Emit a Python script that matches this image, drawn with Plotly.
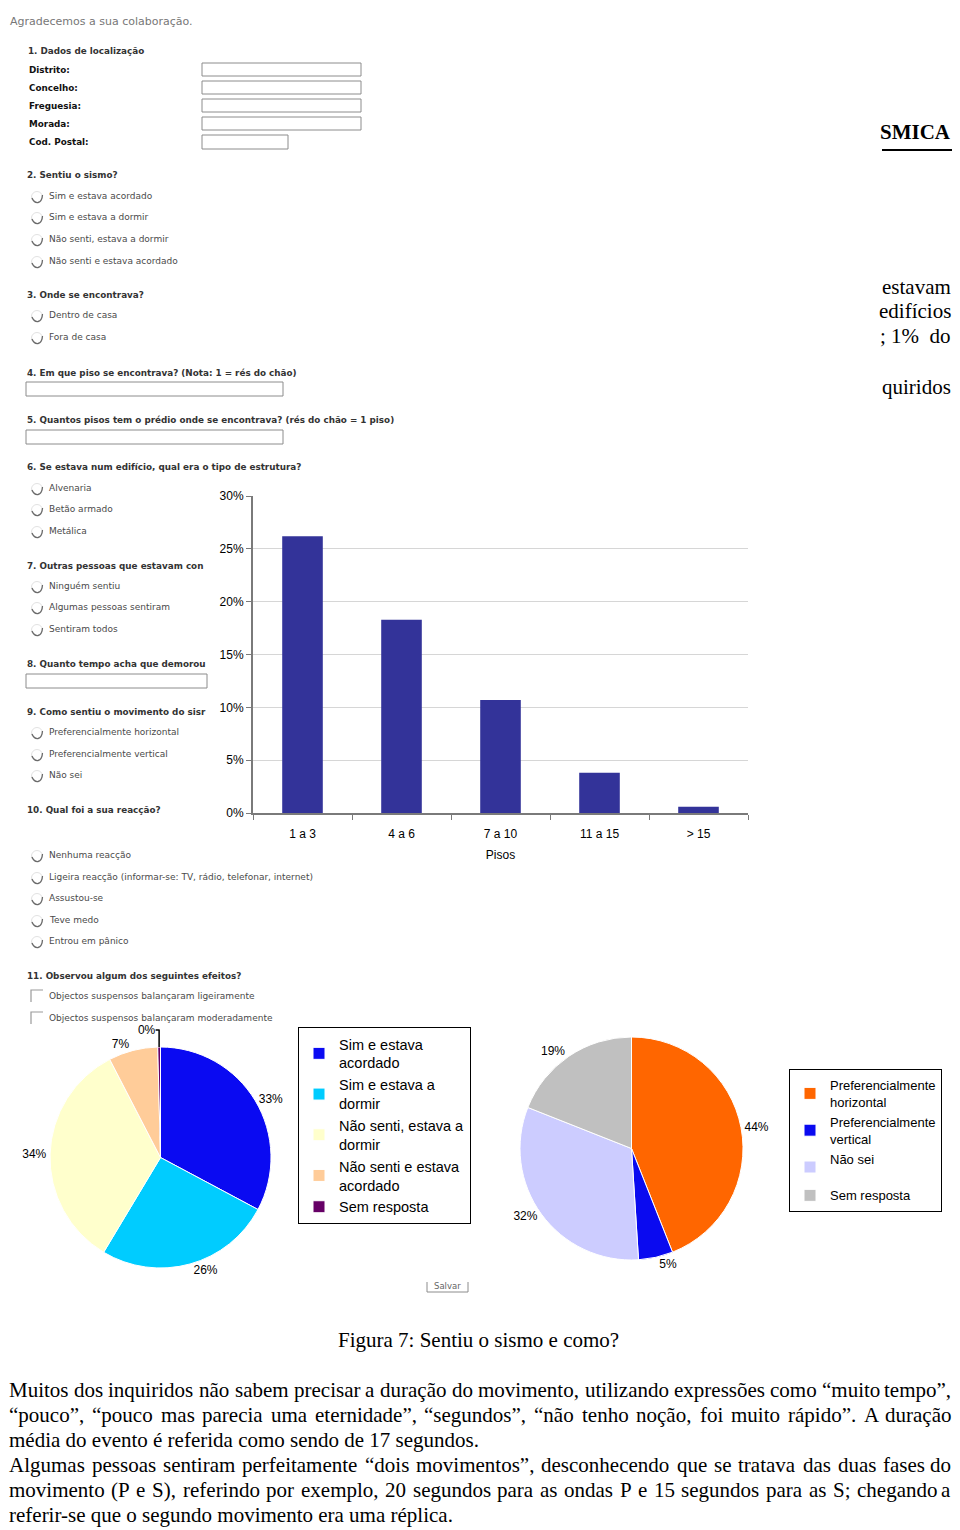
import unicodedata
import plotly.graph_objects as go

# The page puts the figure 8px in from the top-left corner (body margin),
# so the figure is sized to fill the rest of the 960x1530 window and the
# helpers below turn page-pixel positions into paper fractions.
OX, OY = 8, 8
FW, FH = 960 - OX, 1530 - OY


def px(x):
    return (x - OX) / FW


def py(y):
    return 1 - (y - OY) / FH


# --- chart data -----------------------------------------------------------
floor_ranges = ["1 a 3", "4 a 6", "7 a 10", "11 a 15", "> 15"]
floor_share = [0.262, 0.183, 0.107, 0.038, 0.006]

felt_labels = ["Sim e estava<br>acordado", "Sim e estava a<br>dormir",
               "Não senti, estava a<br>dormir", "Não senti e estava<br>acordado",
               "Sem resposta"]
felt_share = [32.8, 25.8, 33.8, 7.2, 0.4]
felt_colors = ["#0A0AF2", "#00CCFF", "#FFFFCC", "#FFCC99", "#660066"]

# pie legends merge equal labels across traces, so this "Sem resposta"
# carries a trailing no-break space to keep its own legend entry
motion_labels = ["Preferencialmente<br>horizontal", "Preferencialmente<br>vertical",
                 "Não sei<br>\u00a0", "Sem resposta\u00a0"]
motion_share = [44, 5, 32, 19]
motion_colors = ["#FF6600", "#0A0AF0", "#CCCCFF", "#C0C0C0"]

# --- questionnaire screenshot behind the charts ---------------------------
form_heads = [
    (27, 51, "1. Dados de localização"),
    (26, 175, "2. Sentiu o sismo?"),
    (26, 295, "3. Onde se encontrava?"),
    (26, 373, "4. Em que piso se encontrava? (Nota: 1 = rés do chão)"),
    (26, 420, "5. Quantos pisos tem o prédio onde se encontrava? (rés do chão = 1 piso)"),
    (26, 467, "6. Se estava num edifício, qual era o tipo de estrutura?"),
    (26, 566, "7. Outras pessoas que estavam con"),
    (26, 664, "8. Quanto tempo acha que demorou"),
    (26, 712, "9. Como sentiu o movimento do sisr"),
    (26, 810, "10. Qual foi a sua reacção?"),
    (26, 976, "11. Observou algum dos seguintes efeitos?"),
]
field_labels = [(28, 70, "Distrito:"), (28, 88, "Concelho:"), (28, 106, "Freguesia:"),
                (28, 124, "Morada:"), (28, 142, "Cod. Postal:")]
field_boxes = [(202, 63, 361, 76), (202, 81, 361, 94), (202, 99, 361, 112),
               (202, 117, 361, 130), (202, 135, 288, 149),
               (26, 382, 283, 396), (26, 430, 283, 444), (26, 674, 207, 688)]
radio_items = [
    (196, "Sim e estava acordado"), (217, "Sim e estava a dormir"),
    (239, "Não senti, estava a dormir"), (261, "Não senti e estava acordado"),
    (315, "Dentro de casa"), (337, "Fora de casa"),
    (488, "Alvenaria"), (509, "Betão armado"), (531, "Metálica"),
    (586, "Ninguém sentiu"), (607, "Algumas pessoas sentiram"), (629, "Sentiram todos"),
    (732, "Preferencialmente horizontal"), (754, "Preferencialmente vertical"),
    (775, "Não sei"),
    (855, "Nenhuma reacção"),
    (877, "Ligeira reacção (informar-se: TV, rádio, telefonar, internet)"),
    (898, "Assustou-se"), (920, "Teve medo"), (941, "Entrou em pânico"),
]
check_items = [(996, "Objectos suspensos balançaram ligeiramente"),
               (1018, "Objectos suspensos balançaram moderadamente")]

# --- report text around the figure ----------------------------------------
side_words = [(287, "estavam"), (311, "edifícios"), (336, "; 1%  do"), (387, "quiridos")]
caption = "Figura 7: Sentiu o sismo e como?"
paragraph = [
    ("Muitos dos inquiridos não sabem precisar a duração do movimento, utilizando expressões como “muito tempo”,", True),
    ("“pouco”, “pouco mas parecia uma eternidade”, “segundos”, “não tenho noção, foi muito rápido”. A duração", True),
    ("média do evento é referida como sendo de 17 segundos.", False),
    ("Algumas pessoas sentiram perfeitamente “dois movimentos”, desconhecendo que se tratava das duas fases do", True),
    ("movimento (P e S), referindo por exemplo, 20 segundos para as ondas P e 15 segundos para as S; chegando a", True),
    ("referir-se que o segundo movimento era uma réplica.", False),
]

SANS = "Liberation Sans, Arial, sans-serif"
SERIF = "Liberation Serif, Times New Roman, serif"
FORM = "DejaVu Sans, Verdana, sans-serif"
BODY_SIZE = 21

# rough Times advance widths (1/1000 em), used to spread justified lines
TIMES = dict(zip("abcdefghijklmnopqrstuvwxyz",
                 [444, 500, 444, 500, 444, 333, 500, 500, 278, 278, 500, 278, 778,
                  500, 500, 500, 500, 333, 389, 278, 500, 500, 722, 500, 500, 444]))
TIMES.update(zip("ABCDEFGHIJKLMNOPQRSTUVWXYZ",
                 [722, 667, 667, 722, 611, 556, 722, 722, 333, 389, 722, 611, 889,
                  722, 722, 556, 722, 667, 556, 611, 722, 722, 944, 722, 722, 611]))
TIMES.update({",": 250, ".": 250, ";": 278, ":": 278, "(": 333, ")": 333,
              "-": 333, "“": 444, "”": 444, " ": 250})


def word_width(w, size):
    total = 0
    for ch in w:
        base = unicodedata.normalize("NFD", ch)[0]
        total += TIMES.get(base, 500)
    return total * size / 1000


fig = go.Figure()

fig.add_trace(go.Bar(
    x=floor_ranges,
    y=floor_share,
    marker=dict(color="#333399", line=dict(width=0)),
    showlegend=False,
    hovertemplate="%{x}: %{y:.1%}<extra></extra>",
))

fig.add_trace(go.Pie(
    labels=felt_labels,
    values=felt_share,
    sort=False,
    direction="clockwise",
    rotation=0,
    marker=dict(colors=felt_colors, line=dict(color="white", width=1)),
    texttemplate="%{percent:.0%}",
    textposition="outside",
    textfont=dict(family=SANS, size=12, color="black"),
    domain=dict(x=[px(50), px(271)], y=[py(1268), py(1047)]),
    legend="legend",
))

fig.add_trace(go.Pie(
    labels=motion_labels,
    values=motion_share,
    sort=False,
    direction="clockwise",
    rotation=0,
    marker=dict(colors=motion_colors, line=dict(color="white", width=1)),
    texttemplate="%{percent:.0%}",
    textposition="outside",
    textfont=dict(family=SANS, size=12, color="black"),
    domain=dict(x=[px(520), px(743)], y=[py(1260), py(1037)]),
    legend="legend2",
))

annotations = []
shapes = []


def text(x, y, s, size=9, color="#444", family=FORM, bold=False, anchor="left"):
    annotations.append(dict(
        x=px(x), y=py(y), xref="paper", yref="paper", text=s, showarrow=False,
        xanchor=anchor, yanchor="middle", borderpad=0,
        font=dict(family=family, size=size, color=color, weight="bold" if bold else "normal"),
    ))


# questionnaire
text(9, 21, "Agradecemos a sua colaboração.", size=11, color="#777")

for x, y, s in form_heads:
    text(x, y, s, size=8.8, color="#333", bold=True)
for x, y, s in field_labels:
    text(x, y, s, size=8.8, color="#111", bold=True)
for x0, y0, x1, y1 in field_boxes:
    shapes.append(dict(type="rect", xref="paper", yref="paper",
                       x0=px(x0), x1=px(x1), y0=py(y1), y1=py(y0),
                       line=dict(color="#8c8c8c", width=1), fillcolor="white"))

for y, s in radio_items:
    cx, cy = 37, y + 1
    shapes.append(dict(type="circle", xref="paper", yref="paper",
                       x0=px(cx - 5.5), x1=px(cx + 5.5), y0=py(cy + 5.5), y1=py(cy - 5.5),
                       line=dict(color="#e2e2e2", width=1), fillcolor="white"))
    arc = (f"M {px(cx - 5)} {py(cy + 1)} Q {px(cx - 3)} {py(cy + 6)} {px(cx + 1)} {py(cy + 5.5)} "
           f"Q {px(cx + 5)} {py(cy + 4.5)} {px(cx + 5.5)} {py(cy - 2)}")
    shapes.append(dict(type="path", xref="paper", yref="paper", path=arc,
                       line=dict(color="#6a6a6a", width=1.3)))
    text(48, y, s, size=9, color="#4a4a4a")

for y, s in check_items:
    shapes.append(dict(type="path", xref="paper", yref="paper",
                       path=f"M {px(31)} {py(y + 6)} L {px(31)} {py(y - 6)} L {px(43)} {py(y - 6)}",
                       line=dict(color="#9a9a9a", width=1.2)))
    text(48, y, s, size=9, color="#4a4a4a")

# fragment of the "Salvar" button
shapes.append(dict(type="path", xref="paper", yref="paper",
                   path=f"M {px(427)} {py(1282)} L {px(427)} {py(1292)} L {px(468)} {py(1292)} L {px(468)} {py(1282)}",
                   line=dict(color="#8c8c8c", width=1)))
text(447, 1286, "Salvar", size=8.5, color="#666", anchor="center")

# report text on the right, cut by the page crop
text(952, 132, "SMICA", size=BODY_SIZE, color="black", family=SERIF, bold=True, anchor="right")
shapes.append(dict(type="line", xref="paper", yref="paper",
                   x0=px(882), x1=px(957), y0=py(150), y1=py(150),
                   line=dict(color="black", width=2)))
for y, s in side_words:
    text(952, y, s, size=BODY_SIZE, color="black", family=SERIF, anchor="right")

text(478, 1340, caption, size=BODY_SIZE, color="black", family=SERIF, anchor="center")

# justified paragraph: words spread between the left and right text edges
left, right = 8, 952
for i, (line, justified) in enumerate(paragraph):
    y = 1390 + 25 * i
    if not justified:
        text(left, y, line, size=BODY_SIZE, color="black", family=SERIF)
        continue
    words = line.split(" ")
    widths = [word_width(w, BODY_SIZE) for w in words]
    gap = (right - left - sum(widths)) / (len(words) - 1)
    x = left
    for j, (w, wd) in enumerate(zip(words, widths)):
        if j == len(words) - 1:
            text(right, y, w, size=BODY_SIZE, color="black", family=SERIF, anchor="right")
        else:
            text(x, y, w, size=BODY_SIZE, color="black", family=SERIF)
        x += wd + gap

fig.update_layout(
    width=FW,
    height=FH,
    margin=dict(l=0, r=0, t=0, b=0, autoexpand=False),
    paper_bgcolor="white",
    plot_bgcolor="white",
    font=dict(family=SANS, size=12, color="black"),
    bargap=0.59,
    xaxis=dict(
        domain=[px(253), px(748)],
        type="category",
        showline=True,
        linecolor="#7a7a7a",
        linewidth=2,
        ticks="outside",
        tickson="boundaries",
        ticklen=5,
        tickcolor="#7a7a7a",
        ticklabelstandoff=9,
        tickfont=dict(family=SANS, size=12, color="black"),
        title=dict(text="Pisos", font=dict(family=SANS, size=12, color="black"), standoff=10),
        showgrid=False,
        automargin=False,
    ),
    yaxis=dict(
        domain=[py(813), py(496)],
        range=[0, 0.30],
        dtick=0.05,
        tickformat=".0%",
        showline=True,
        linecolor="#7a7a7a",
        linewidth=2,
        ticks="outside",
        ticklen=5,
        tickcolor="#7a7a7a",
        showgrid=True,
        gridcolor="#d6d6d6",
        zeroline=False,
        tickfont=dict(family=SANS, size=12, color="black"),
        automargin=False,
    ),
    legend=dict(
        x=px(298), y=py(1027), xanchor="left", yanchor="top",
        bordercolor="black", borderwidth=1, bgcolor="white",
        font=dict(family=SANS, size=14.5, color="black"),
        itemwidth=30,
    ),
    legend2=dict(
        x=px(789), y=py(1069), xanchor="left", yanchor="top",
        bordercolor="black", borderwidth=1, bgcolor="white",
        font=dict(family=SANS, size=13, color="black"),
        itemwidth=30,
    ),
    annotations=annotations,
    shapes=shapes,
)

fig.write_html("out.html")
